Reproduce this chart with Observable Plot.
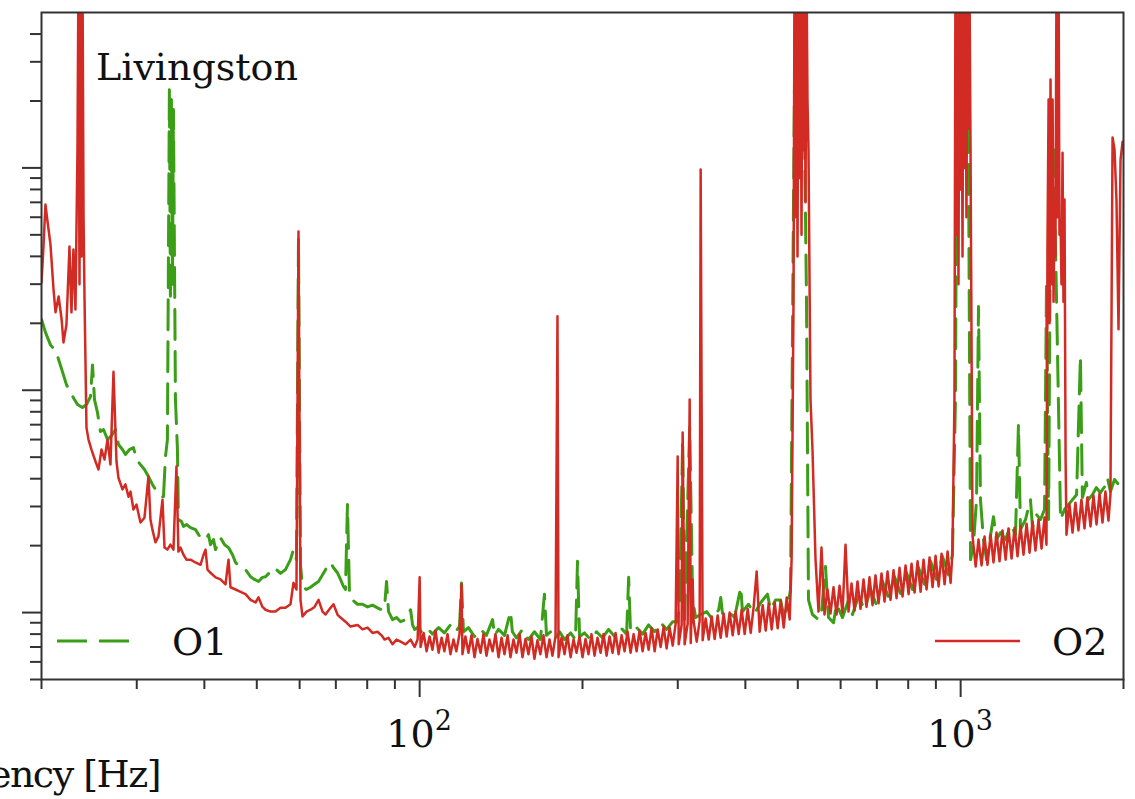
<!DOCTYPE html>
<html>
<head>
<meta charset="utf-8">
<script src="https://cdn.jsdelivr.net/npm/d3@7"></script>
<script src="https://cdn.jsdelivr.net/npm/@observablehq/plot@0.6"></script>
<style>
  html, body { margin: 0; padding: 0; background: #fff; }
  #chart { width: 1135px; height: 799px; overflow: hidden; }
</style>
</head>
<body>
<div id="chart"></div>
<script>
// Amplitude spectral density, in units of 1e-23 strain/sqrt(Hz); pairs are [frequency Hz, ASD]
const asdUnit = 1e-23;
const stationName = "Livingston";
const seriesNames = ["O1", "O2"];
const xLabel = "Frequency [Hz]";
const xMajorTicks = [100, 1000];
const xMajorBase = "10";
const xMajorExponents = ["2", "3"];
const xMinorTicks = [20, 30, 40, 50, 60, 70, 80, 90, 200, 300, 400, 500, 600, 700, 800, 900, 2000];
const yMajorTicks = [1e-23, 1e-22, 1e-21];
const yMinorTicks = [5e-24, 6e-24, 7e-24, 8e-24, 9e-24, 2e-23, 3e-23, 4e-23, 5e-23, 6e-23, 7e-23, 8e-23, 9e-23,
  2e-22, 3e-22, 4e-22, 5e-22, 6e-22, 7e-22, 8e-22, 9e-22, 2e-21, 3e-21, 4e-21];

const o1 = [[20.0,20.8],[20.34,18.2],[20.78,16.0],[21.15,15.2],[21.42,14.2],[21.87,12.1],[22.24,10.6],[22.62,9.76],[23.01,9.08],[23.31,8.62],[23.81,8.36],[24.22,8.62],[24.64,9.37],[24.85,13.0],[25.06,9.08],[25.38,7.94],[25.70,6.52],[26.04,6.66],[26.49,6.00],[26.94,6.25],[27.40,6.66],[27.75,5.70],[28.23,5.41],[28.59,5.14],[29.09,5.41],[29.58,5.52],[29.96,4.88],[30.48,4.63],[31.00,4.40],[31.53,4.09],[32.07,3.77],[32.48,3.58],[32.90,3.47],[33.33,3.32],[33.61,3.32],[33.90,5.03],[34.18,6.00],[34.47,230],[34.62,25],[34.77,203],[34.92,30],[35.07,183],[35.37,9.08],[35.67,5.41],[35.82,2.62],[36.29,2.57],[36.60,2.44],[37.07,2.49],[37.71,2.41],[38.52,2.36],[39.35,2.17],[40.20,2.13],[40.72,2.24],[41.06,2.02],[41.59,2.13],[41.95,1.92],[42.49,2.07],[42.85,2.17],[43.60,2.02],[44.33,1.96],[45.09,1.82],[45.68,1.68],[46.66,1.59],[47.66,1.56],[48.69,1.45],[49.51,1.41],[50.37,1.38],[51.23,1.44],[51.89,1.45],[52.77,1.51],[53.46,1.48],[54.38,1.56],[55.31,1.50],[56.49,1.56],[57.71,1.73],[58.45,1.92],[59.20,1.73],[59.71,47.6],[60.22,1.64],[60.74,1.31],[61.78,1.27],[62.85,1.30],[63.93,1.34],[65.03,1.38],[66.15,1.48],[66.99,1.56],[67.85,1.64],[68.43,1.68],[69.31,1.59],[70.49,1.51],[71.40,1.41],[72.31,1.31],[72.93,1.27],[73.55,3.06],[74.19,1.21],[75.15,1.14],[76.76,1.09],[78.41,1.09],[80.10,1.06],[81.83,1.08],[83.59,1.05],[85.03,1.03],[86.12,1.05],[86.86,1.38],[87.60,1.01],[89.11,0.93],[90.64,0.95],[92.21,0.91],[94.19,0.93],[96.22,1.03],[97.03,0.88],[97.88,0.84],[99.14,0.856],[100.8,0.82],[103.0,0.856],[105.6,0.80],[108.4,0.856],[111.1,0.81],[114.0,0.88],[116.5,0.82],[118.5,0.865],[119.5,1.36],[120.5,0.82],[123.1,0.856],[126.3,0.78],[129.6,0.84],[132.9,0.79],[135.2,0.88],[136.4,0.93],[137.5,0.79],[139.9,0.84],[143.5,0.79],[147.2,1.01],[148.4,0.82],[151.0,0.77],[154.9,0.84],[158.9,0.756],[163.0,0.82],[167.2,0.756],[170.1,1.21],[171.6,0.79],[174.5,0.82],[178.3,0.756],[181.4,0.82],[185.3,0.756],[190.1,0.81],[194.1,0.756],[195.8,1.70],[197.5,0.78],[201.7,0.81],[206.9,0.756],[212.3,0.82],[217.8,0.77],[223.5,0.84],[229.3,0.78],[235.2,0.856],[241.3,0.80],[243.4,1.44],[245.4,0.82],[251.8,0.856],[258.3,0.80],[265.0,0.88],[271.9,0.82],[278.9,0.90],[286.1,0.84],[293.6,0.91],[299.9,0.91],[302.5,1.14],[306.3,6.00],[308.8,0.93],[315.6,6.79],[319.6,1.14],[323.7,0.95],[330.7,0.98],[339.3,1.01],[348.1,0.93],[357.1,1.03],[360.2,1.17],[363.1,0.98],[372.4,1.01],[382.0,0.95],[392.3,1.30],[395.1,1.01],[405.4,1.09],[415.9,0.99],[427.2,1.11],[439.5,1.21],[445.2,1.03],[454.9,1.14],[464.6,1.14],[470.5,0.98],[478.6,1.05],[484.8,1.27],[491.0,72.1],[495.2,800],[499.4,800],[505.9,800],[512.3,340],[518.9,25.6],[523.3,1.14],[532.3,0.98],[546.1,0.93],[553.1,1.01],[562.6,1.61],[569.9,0.95],[582.2,0.90],[589.5,1.09],[604.8,0.95],[620.5,1.14],[631.2,0.98],[647.5,1.19],[664.3,1.03],[681.4,1.27],[699.0,1.08],[717.2,1.38],[735.7,1.17],[754.7,1.45],[774.2,1.22],[794.3,1.51],[814.8,1.27],[835.9,1.59],[857.6,1.34],[879.8,1.70],[902.1,1.41],[925.5,1.79],[949.4,1.48],[965.7,1.82],[978.2,9.08],[986.6,800],[999.2,800],[1012,800],[1025,800],[1034,121],[1043,1.73],[1056,2.02],[1070,3.22],[1079,23.8],[1088,3.22],[1102,2.13],[1117,1.73],[1136,2.24],[1150,2.70],[1165,2.13],[1185,2.29],[1211,2.13],[1237,2.49],[1263,2.24],[1279,7.01],[1290,2.36],[1318,2.62],[1346,3.22],[1358,2.41],[1381,2.76],[1405,2.62],[1429,2.91],[1441,29.3],[1454,2.62],[1466,72.1],[1485,121],[1504,25.6],[1530,2.62],[1556,2.91],[1583,3.06],[1610,3.22],[1638,3.39],[1665,14.2],[1679,3.29],[1708,3.85],[1723,3.22],[1752,3.39],[1782,3.65],[1813,3.46],[1845,3.68],[1868,4.04],[1892,3.50],[1925,3.97],[1958,3.77],[2000,3.97]];

const o2 = [[20.0,30.5],[20.17,44.3],[20.34,68.4],[20.52,57.4],[20.78,45.2],[21.05,28.4],[21.23,22.4],[21.51,26.4],[21.79,20.8],[21.96,16.4],[22.24,19.7],[22.53,44.3],[22.72,22.4],[22.91,42.9],[23.11,23.1],[23.31,121],[23.41,800],[23.51,30],[23.61,800],[23.71,40],[23.81,800],[23.92,60],[24.02,25.6],[24.22,6.79],[24.43,6.00],[24.74,5.41],[25.17,4.78],[25.49,4.40],[25.82,5.41],[26.15,4.88],[26.49,6.00],[26.82,4.63],[27.17,12.1],[27.52,4.78],[27.75,4.04],[28.23,3.58],[28.59,3.77],[28.96,3.32],[29.21,3.50],[29.58,2.91],[29.96,3.06],[30.48,2.54],[31.00,2.67],[31.53,4.09],[31.80,2.62],[32.07,2.36],[32.48,2.07],[32.90,2.20],[33.47,3.22],[33.76,1.96],[34.18,1.92],[34.62,2.02],[35.07,1.92],[35.52,4.54],[35.82,1.88],[36.13,1.96],[36.60,1.82],[37.07,1.73],[37.71,1.73],[38.52,1.68],[39.35,1.64],[39.86,1.82],[40.20,1.92],[40.54,1.56],[41.06,1.51],[41.95,1.44],[42.85,1.41],[43.77,1.34],[44.33,1.73],[44.71,1.30],[45.68,1.27],[46.66,1.24],[47.66,1.21],[48.69,1.14],[49.73,1.11],[50.37,1.17],[51.23,1.06],[51.89,1.03],[53.00,1.01],[54.14,1.01],[55.31,1.05],[56.49,1.05],[57.71,1.09],[58.45,1.36],[59.20,1.27],[59.71,51.7],[60.22,1.14],[60.74,0.96],[61.78,1.01],[62.85,1.03],[63.93,1.06],[65.03,1.14],[66.15,1.01],[66.99,0.98],[68.43,1.05],[69.31,1.09],[70.49,0.98],[71.40,0.95],[72.93,0.91],[74.51,0.865],[76.76,0.88],[78.41,0.84],[80.10,0.856],[81.83,0.81],[83.59,0.82],[85.03,0.79],[86.12,0.756],[87.60,0.77],[89.11,0.72],[90.64,0.756],[92.21,0.74],[94.19,0.72],[96.22,0.756],[97.88,0.70],[99.14,0.756],[100.0,1.44],
[100.4,0.70],[101.7,0.81],[103.0,0.67],[104.3,0.78],[105.6,0.68],[107.0,0.83],[108.4,0.66],[109.8,0.77],[111.1,0.67],[112.6,0.80],[114.0,0.65],[115.5,0.756],[116.9,0.67],[118.5,0.80],[119.5,1.34],[120.0,0.65],[121.5,0.78],[123.1,0.66],[124.7,0.79],[126.3,0.63],[127.9,0.76],[129.6,0.66],[131.2,0.80],[132.9,0.64],[134.6,0.756],[136.4,0.67],[138.1,0.80],[139.9,0.63],[141.7,0.77],[143.5,0.65],[145.4,0.79],[147.2,0.63],[149.1,0.756],[151.0,0.66],[153.0,0.80],[154.9,0.63],[156.9,0.76],[158.9,0.65],[161.0,0.78],[163.0,0.62],[165.1,0.75],[167.2,0.65],[169.4,0.79],[171.6,0.63],[173.8,0.756],[176.0,0.64],[178.3,0.78],[179.8,21.5],[180.6,0.63],[182.9,0.77],[185.3,0.65],[187.6,0.79],[190.1,0.63],[192.5,0.756],[195.0,0.66],[197.5,0.78],[200.0,0.63],[202.6,0.76],[205.2,0.65],[207.8,0.80],[210.5,0.64],[213.2,0.77],[216.0,0.66],[218.7,0.80],[221.6,0.64],[224.4,0.78],[227.3,0.66],[230.2,0.81],[233.2,0.65],[236.2,0.79],[239.2,0.67],[242.3,0.82],[245.4,0.66],[248.6,0.80],[251.8,0.67],[255.0,0.83],[258.3,0.67],[261.6,0.81],[265.0,0.68],[268.4,0.85],[271.9,0.67],[275.4,0.84],[278.9,0.70],[282.5,0.865],[286.1,0.69],[289.8,0.856],[293.6,0.71],[297.3,0.89],[299.9,5.03],[301.2,0.72],[305.0,0.88],[306.3,6.45],[308.9,0.72],[312.9,0.89],[315.6,9.08],[317.0,0.73],[319.6,1.41],[321.0,0.91],[325.2,0.74],[329.3,0.92],[330.7,98.4],[333.5,0.75],[337.8,0.94],[342.2,0.756],[346.6,0.96],[351.0,0.76],[355.5,0.97],[360.1,0.77],[364.7,0.99],[369.4,0.78],[374.1,1.00],[379.0,0.79],[383.8,1.01],[388.8,0.80],[393.8,1.03],[398.8,0.80],[404.0,1.04],[409.2,0.81],[414.4,1.06],[419.7,1.53],[425.1,0.82],[430.6,1.08],[436.2,0.83],[441.8,1.10],[447.4,0.84],[453.2,1.11],[459.0,0.85],[464.9,1.13],[470.9,0.856],[477.0,1.17],[483.1,0.93],[487.0,1.73],
[491.0,25.6],[493.1,800],[495.2,60],[497.3,800],[499.4,40],[501.6,800],[503.7,90],[505.9,800],[508.0,50],[510.2,800],[512.3,120],[514.5,800],[516.7,70],[518.9,800],[521.1,200],[523.3,121],[527.8,9.08],[532.3,5.41],
[539.2,1.73],[546.1,1.01],[553.1,1.96],[560.2,0.98],[567.4,1.27],[574.7,0.99],[582.1,1.30],[589.6,0.98],[597.2,1.32],[604.9,1.00],[612.6,2.02],[620.5,1.01],[628.5,1.35],[636.6,1.02],[644.7,1.38],[653.0,1.04],[661.4,1.41],[669.9,1.06],[678.5,1.44],[687.3,1.08],[696.1,1.47],[705.1,1.10],[714.1,1.50],[723.3,1.12],[732.6,1.53],[742.0,1.14],[751.6,1.55],[761.2,1.16],[771.0,1.59],[780.9,1.18],[791.0,1.63],[801.2,1.21],[811.5,1.66],[821.9,1.23],[832.5,1.70],[843.2,1.24],[854.0,1.73],[865.0,1.27],[876.1,1.77],[887.4,1.30],[898.8,1.80],[910.4,1.31],[922.1,1.84],[933.9,1.34],[945.9,1.88],[958.1,1.36],[965.7,1.86],
[974,9.08],[978.2,800],[982.4,50],[986.6,800],[990.8,30],[995.0,800],[999.2,80],[1003.5,800],[1008,40],[1012,800],[1016,100],[1021,800],[1025,60],[1030,800],[1034,150],[1038,800],[1043,121],
[1052,2.20],[1066,1.61],[1079,2.13],[1093,1.63],[1107,2.20],[1121,1.64],[1136,2.24],[1150,1.68],[1165,2.29],[1180,1.70],[1195,2.34],[1211,1.73],[1226,2.39],[1242,1.75],[1258,2.41],[1274,1.79],[1290,2.46],[1307,1.82],[1324,2.51],[1341,1.86],[1358,2.57],[1375,1.90],[1393,2.62],[1411,1.94],[1429,2.68],[1441,2.02],
[1447,42.9],[1454,203],[1460,20],[1466,250],[1472,30],[1479,203],[1485,25],[1491,65.0],[1497,40],[1504,800],[1510,60],[1517,800],[1523,50],[1530,58.6],[1536,30],[1543,117],[1549,25],[1556,72.1],[1563,5],
[1569,2.24],[1589,3.06],[1610,2.29],[1630,3.12],[1651,2.34],[1672,3.22],[1694,2.39],[1715,3.29],[1738,2.44],[1760,3.36],[1783,2.49],[1806,3.43],[1829,2.54],[1852,3.50],[1876,2.59],[1892,3.39],[1909,137],[1925,121],[1941,72.1],[1958,18.8],[1975,109],[1992,131],[2000,128]];

const green = "#3a9e17";
const red = "#d22b24";
const axisColor = "#333";
const fontFamily = "DejaVu Serif";
const fontSize = 38;

const toRows = (arr) => arr.map(([f, v]) => ({f, h: v * asdUnit}));
const rows1 = toRows(o1);
const rows2 = toRows(o2);

function overlay(index, scales, values, dims) {
  const {width, height, marginLeft: L, marginRight: R, marginTop: T, marginBottom: B} = dims;
  const right = width - R, bottom = height - B;
  const g = d3.create("svg:g")
    .attr("font-family", fontFamily)
    .attr("font-size", fontSize)
    .attr("text-anchor", "start")
    .attr("fill", "#111");
  g.append("text").attr("x", L + 55).attr("y", T + 68).text(stationName);
  // legend O1
  g.append("line").attr("x1", L + 16).attr("x2", L + 88).attr("y1", bottom - 38).attr("y2", bottom - 38)
    .attr("stroke", green).attr("stroke-width", 3).attr("stroke-dasharray", "30,12");
  g.append("text").attr("x", L + 131).attr("y", bottom - 24).text(seriesNames[0]);
  // legend O2
  g.append("line").attr("x1", right - 188).attr("x2", right - 103).attr("y1", bottom - 38).attr("y2", bottom - 38)
    .attr("stroke", red).attr("stroke-width", 2.5);
  g.append("text").attr("x", right - 71).attr("y", bottom - 24).text(seriesNames[1]);
  // major x tick labels with real superscripts
  xMajorTicks.forEach((d, i) => {
    const t = g.append("text").attr("x", scales.x(d)).attr("y", bottom + 68).attr("text-anchor", "middle");
    t.append("tspan").text(xMajorBase);
    t.append("tspan").attr("font-size", 27).attr("dy", -17).text(xMajorExponents[i]);
  });
  // x label (cropped on the left in the original)
  g.append("text").attr("x", L + 119).attr("y", bottom + 108).attr("text-anchor", "end")
    .attr("letter-spacing", -1.5).text(xLabel);
  return g.node();
}

const chart = Plot.plot({
  width: 1135,
  height: 799,
  marginLeft: 41,
  marginRight: 12,
  marginTop: 12,
  marginBottom: 120,
  style: {fontFamily, fontSize: fontSize + "px", background: "#fff", color: "#111", overflow: "hidden"},
  x: {type: "log", domain: [20, 2000]},
  y: {type: "log", domain: [5e-24, 5e-21]},
  marks: [
    Plot.line(rows1, {x: "f", y: "h", stroke: green, strokeWidth: 3, strokeDasharray: "30,12", clip: true}),
    Plot.line(rows2, {x: "f", y: "h", stroke: red, strokeWidth: 2.5, clip: true}),
    Plot.frame({stroke: axisColor, strokeWidth: 2}),
    Plot.axisX(xMajorTicks, {tickSize: 18, strokeWidth: 2, stroke: axisColor, fill: "none", label: null}),
    Plot.axisX(xMinorTicks, {tickSize: 10, strokeWidth: 2, stroke: axisColor, fill: "none", label: null}),
    Plot.axisY(yMajorTicks, {tickSize: 19, strokeWidth: 2, stroke: axisColor, fill: "none", label: null}),
    Plot.axisY(yMinorTicks, {tickSize: 11, strokeWidth: 2, stroke: axisColor, fill: "none", label: null}),
    overlay
  ]
});
document.getElementById("chart").append(chart);
</script>
</body>
</html>
